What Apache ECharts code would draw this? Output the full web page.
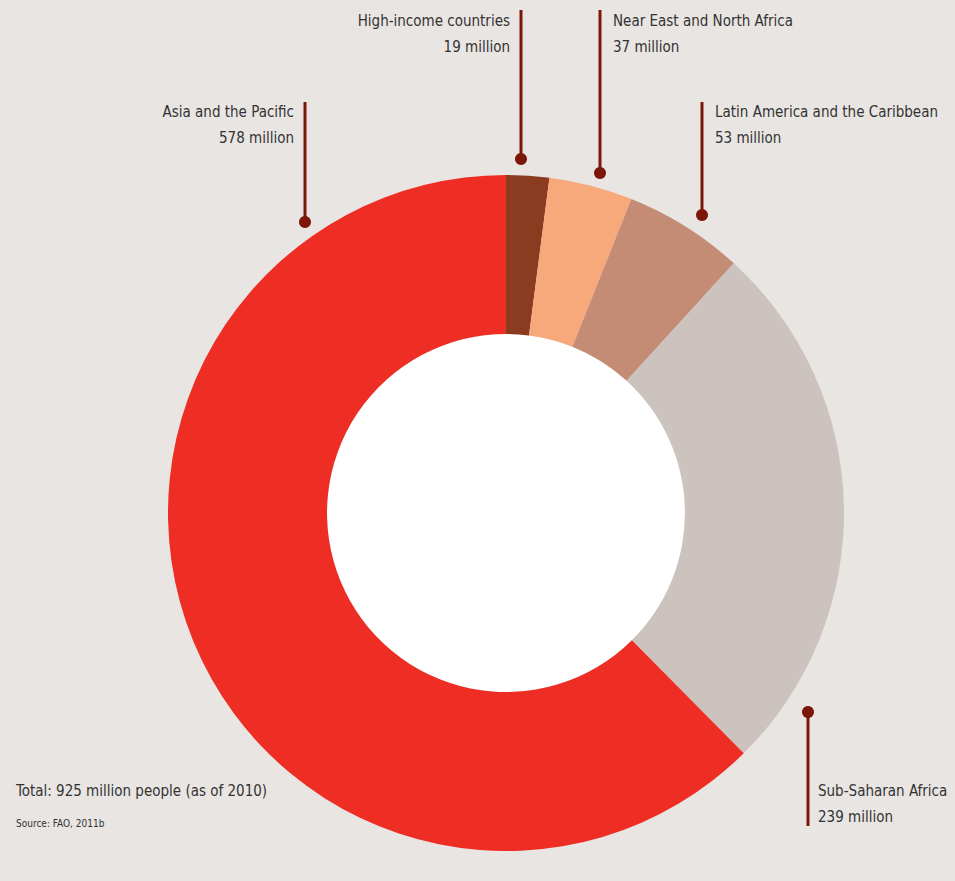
<!DOCTYPE html>
<html>
<head>
<meta charset="utf-8">
<script src="https://cdn.jsdelivr.net/npm/echarts@6/dist/echarts.min.js"></script>
<style>
  html, body { margin: 0; padding: 0; background: #e9e5e2; }
  #grafico_hambre { width: 955px; height: 881px; }
</style>
</head>
<body>
<div id="grafico_hambre"></div>
<script>
// regions, clockwise from the top
const regiones = ['High-income countries', 'Near East and North Africa', 'Latin America and the Caribbean', 'Sub-Saharan Africa', 'Asia and the Pacific']
const millones = [19, 37, 53, 239, 578]
const colores = ['#8b3b1f', '#f7a97b', '#c48c74', '#cdc3be', '#ee2e24']

const titulo = 'Total: 925 million people (as of 2010)'
const fuente = 'Source: FAO, 2011b'

// where each annotation sits: dot (dx, dy), end of leader line (ly), text anchor
const anclas = [
  { dx: 521, dy: 159, ly: 10, tx: 510, ty: 8, align: 'right' },
  { dx: 600, dy: 173, ly: 10, tx: 613, ty: 8, align: 'left' },
  { dx: 702, dy: 215, ly: 102, tx: 715, ty: 99, align: 'left' },
  { dx: 808, dy: 712, ly: 826, tx: 818, ty: 778, align: 'left' },
  { dx: 305, dy: 222, ly: 102, tx: 294, ty: 99, align: 'right' }
]

const fuenteTexto = '"Liberation Sans Narrow", "DejaVu Sans Condensed", sans-serif'
const rojoOscuro = '#7b1608'

const chart = echarts.init(document.getElementById('grafico_hambre'), null, { renderer: 'svg' })

const option = {
  backgroundColor: '#e9e5e2',
  animation: false,
  title: [
    {
      text: titulo,
      left: 11,
      top: 778,
      textStyle: { fontFamily: fuenteTexto, fontSize: 15, fontWeight: 'normal', color: '#333333' }
    },
    {
      text: fuente,
      left: 11,
      top: 813,
      textStyle: { fontFamily: fuenteTexto, fontSize: 10, fontWeight: 'normal', color: '#333333' }
    }
  ],
  graphic: [
    {
      type: 'circle',
      shape: { cx: 506, cy: 513, r: 179 },
      style: { fill: '#ffffff' },
      z: 0
    }
  ].concat(anclas.map(a => ({
    type: 'circle',
    shape: { cx: a.dx, cy: a.dy, r: 6 },
    style: { fill: rojoOscuro },
    z: 10
  }))),
  series: [
    {
      type: 'pie',
      center: [506, 513],
      radius: [179, 338],
      startAngle: 90,
      clockwise: true,
      silent: true,
      emphasis: { disabled: true },
      itemStyle: { borderWidth: 0 },
      label: {
        show: true,
        position: 'outer',
        alignTo: 'none',
        edgeDistance: 0,
        overflow: 'none',
        formatter: p => p.name + '\n' + p.value + ' million',
        fontFamily: fuenteTexto,
        fontSize: 15,
        lineHeight: 26,
        color: '#333333'
      },
      labelLine: {
        show: true,
        lineStyle: { color: rojoOscuro, width: 3 }
      },
      labelLayout: function (params) {
        const a = anclas[params.dataIndex]
        return {
          x: a.tx,
          y: a.ty,
          align: a.align,
          verticalAlign: 'top',
          labelLinePoints: [[a.dx, a.dy], [a.dx, a.ly], [a.dx, a.ly]]
        }
      },
      data: regiones.map((r, i) => ({
        name: r,
        value: millones[i],
        itemStyle: { color: colores[i] }
      }))
    }
  ]
}

chart.setOption(option)
</script>
</body>
</html>
